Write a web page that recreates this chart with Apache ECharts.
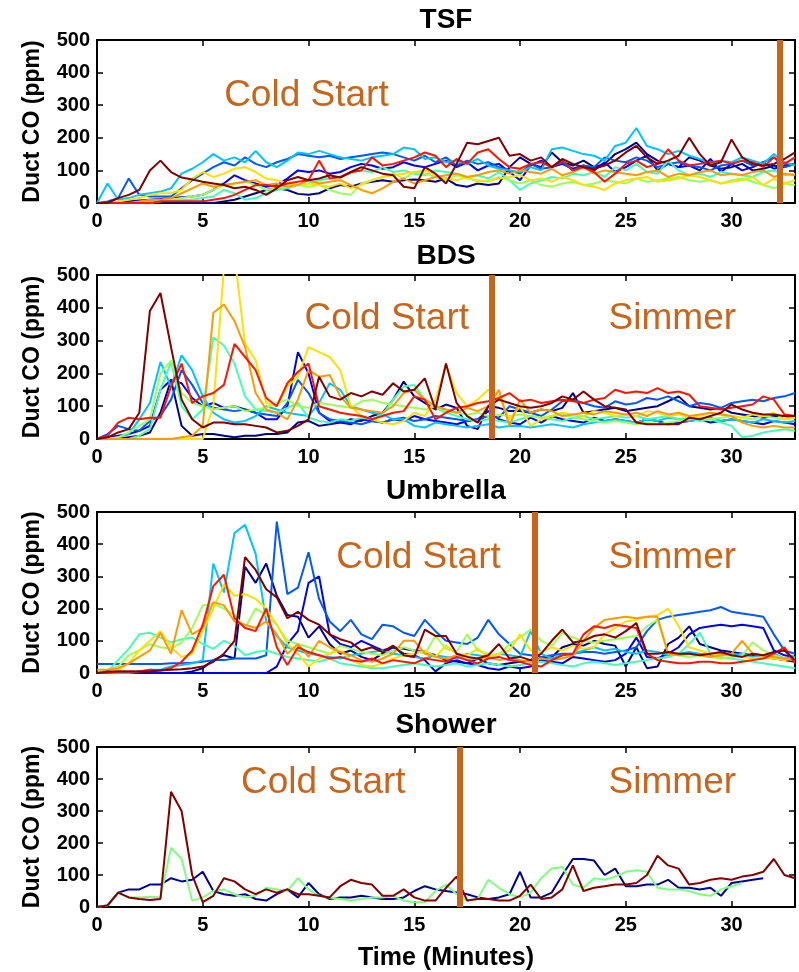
<!DOCTYPE html>
<html><head><meta charset="utf-8">
<script src="https://cdn.jsdelivr.net/npm/echarts@6/dist/echarts.min.js"></script>
<style>html,body{margin:0;padding:0;background:#fff}#chart{width:799px;height:972px}</style>
</head><body><div id="chart"></div>
<script>
// ---------- data ----------
const timeMin = [0,0.5,1,1.5,2,2.5,3,3.5,4,4.5,5,5.5,6,6.5,7,7.5,8,8.5,9,9.5,10,10.5,11,11.5,12,12.5,13,13.5,14,14.5,15,15.5,16,16.5,17,17.5,18,18.5,19,19.5,20,20.5,21,21.5,22,22.5,23,23.5,24,24.5,25,25.5,26,26.5,27,27.5,28,28.5,29,29.5,30,30.5,31,31.5,32,32.5,33];
const xTicks = [0,5,10,15,20,25,30];
const yTicks = [0,100,200,300,400,500];
const panelTitles = ['TSF','BDS','Umbrella','Shower'];
const phaseBoundary = [32.3, 18.65, 20.7, 17.15];
const phaseLabels = [
  [['Cold Start', 9.9, 328]],
  [['Cold Start', 13.7, 366], ['Simmer', 27.2, 366]],
  [['Cold Start', 15.2, 357], ['Simmer', 27.2, 357]],
  [['Cold Start', 10.7, 388], ['Simmer', 27.2, 388]]
];

// TSF
const tsfNavy = [0,0,0,0,0,0,0,0,0,0, 0,0,5,10,20,30,40,45,40,28, 25,30,45,55,50,60,65,70,65,70, 72,70,65,75,55,50,60,55,60,110, 140,120,110,155,125,115,130,110,120,150, 165,185,150,130,120,110,140,130,115,105, 110,120,100,105,115,110,120];
const tsfBlue = [0,0,0,5,8,10,12,15,18,20, 25,40,60,85,70,60,50,55,75,100, 95,100,90,95,110,120,115,105,110,125, 115,110,120,130,110,125,100,115,120,95, 70,115,130,110,120,105,115,100,125,95, 110,130,145,100,120,110,115,100,135,95, 120,100,110,125,105,115,120];
const tsfMidBlue = [0,5,15,75,25,20,20,20,45,70, 90,110,125,115,140,120,110,125,135,150, 145,140,145,135,140,145,150,155,150,140, 130,145,125,140,115,130,120,125,110,100, 90,120,105,110,125,100,115,110,140,130, 125,140,130,110,120,125,115,110,100,115, 120,130,115,125,140,110,120];
const tsfSky = [0,60,10,15,25,30,35,45,90,105, 125,150,130,140,125,160,125,110,130,155, 150,160,150,140,135,130,140,145,150,170, 165,135,140,125,130,120,135,115,105,100, 95,110,100,165,170,160,150,145,130,175, 185,230,175,165,150,160,145,135,120,130, 125,140,130,120,150,125,115];
const tsfAqua = [0,0,0,0,0,5,5,10,10,10, 15,20,40,30,10,15,30,40,45,55, 60,70,75,80,90,100,95,110,95,100, 90,85,100,95,90,80,85,75,95,70, 40,60,70,80,75,90,85,95,80,110, 100,120,95,90,130,100,85,90,80,95, 90,85,80,95,100,85,90];
const tsfLightGreen = [0,0,0,0,0,0,5,10,15,20, 25,40,55,60,65,55,40,45,50,55, 50,55,40,30,25,60,70,80,90,75, 95,90,80,70,85,75,70,65,80,70, 60,70,55,50,60,65,55,60,70,65, 60,75,65,70,75,80,70,65,70,60, 70,75,65,55,45,60,55];
const tsfYellow = [0,0,5,10,15,25,30,30,40,75, 95,80,90,105,110,95,75,70,60,55, 60,55,50,60,45,55,70,80,85,90, 95,100,85,75,70,80,65,70,75,80, 85,70,75,65,80,70,55,50,40,60, 70,75,80,65,70,75,85,80,70,60, 65,70,80,55,75,60,70];
const tsfOrange = [0,0,0,0,5,10,10,15,30,45, 60,50,55,60,65,70,55,60,50,55, 70,60,65,70,55,40,30,45,65,75, 60,70,80,85,90,80,85,95,100,90, 100,95,90,105,85,95,110,90,100,95, 90,85,95,100,80,90,85,95,100,85, 90,85,95,100,80,90,85];
const tsfRed = [0,0,0,0,0,0,5,5,5,5, 5,10,15,25,40,55,55,50,60,65, 70,130,75,80,95,100,140,115,120,130, 140,155,145,110,135,120,155,165,135,110, 105,120,125,110,130,100,110,95,65,90, 120,130,110,120,165,130,115,120,125,130, 120,130,125,110,140,120,140];
const tsfDarkRed = [0,0,15,25,40,100,130,95,78,72, 65,60,55,45,50,40,25,45,70,80, 70,75,85,78,95,110,100,90,85,50, 45,110,90,60,120,185,180,190,200,145, 150,130,140,110,135,120,110,105,115,130, 155,175,140,120,130,145,200,150,115,125, 195,140,120,115,120,135,155];

// BDS
const bdsNavy = [0,0,0,5,10,20,80,180,40,10, 15,15,10,5,10,10,15,15,20,50, 55,40,45,50,60,55,70,80,120,175, 130,110,90,105,95,40,30,100,95,85, 85,80,90,85,95,140,80,85,90,95, 85,90,95,100,115,130,100,95,90,95, 80,75,70,65,70,70,65];
const bdsBlue = [0,5,10,15,25,40,150,180,170,125, 100,110,95,100,90,80,60,60,100,265, 200,80,55,50,45,60,55,50,60,55, 70,60,55,50,45,55,60,85,60,50, 45,65,50,70,60,55,50,65,55,60, 55,50,60,55,45,50,55,60,50,55, 60,55,50,45,55,50,45];
const bdsMidBlue = [0,15,40,30,25,55,70,120,210,165, 110,95,90,85,90,80,75,70,110,180, 140,80,60,55,50,45,55,50,60,65, 55,60,70,65,60,55,60,70,65,100, 90,80,70,90,115,120,110,100,95,115, 105,110,125,120,130,115,100,110,105,95, 110,115,120,115,125,130,140];
const bdsSky = [0,0,5,15,60,110,235,160,255,210, 130,80,60,50,55,70,100,90,80,75, 70,110,170,150,100,90,80,75,60,60, 40,35,50,45,40,35,40,45,35,40, 40,35,40,45,40,35,45,50,55,60, 55,50,60,55,65,60,55,60,65,55, 60,55,50,60,55,50,55];
const bdsAqua = [0,0,0,0,10,30,150,235,100,60, 90,310,285,230,130,90,85,80,95,110, 65,55,50,60,55,65,60,75,120,160, 165,120,95,80,70,60,55,60,55,50, 60,70,65,60,55,65,70,60,65,70, 65,70,60,65,70,60,65,55,60,50, 40,5,10,20,25,30,25];
const bdsLightGreen = [0,0,5,20,40,60,200,240,140,110, 100,90,95,100,85,90,95,110,120,100, 95,110,105,100,95,115,120,110,105,100, 95,90,100,85,80,75,80,70,75,70, 75,70,65,70,75,65,60,55,50,55, 50,45,50,45,50,55,60,65,60,65, 70,65,60,70,65,60,65];
const bdsYellow = [0,0,0,0,0,0,0,0,0,0, 0,100,520,560,290,240,110,100,160,190, 280,265,250,210,100,70,60,50,45,55, 80,70,120,225,140,100,120,150,130,60, 100,40,60,70,80,75,70,85,80,70, 75,70,85,80,70,75,65,70,80,75, 70,65,75,70,80,60,65];
const bdsOrange = [0,0,0,0,0,0,0,0,5,10, 40,385,410,360,280,140,90,80,60,120, 210,190,195,130,95,90,85,80,100,140, 150,120,100,90,80,95,85,100,150,40, 120,80,90,85,70,75,80,75,85,80, 75,80,70,85,75,80,70,75,80,75, 70,50,40,35,40,35,35];
const bdsRed = [0,10,50,65,60,65,65,160,230,110, 130,140,165,290,250,210,125,100,170,205, 230,100,90,80,75,70,60,70,80,85, 130,120,60,80,95,100,110,115,125,140, 115,120,110,115,120,115,110,120,125,150, 140,145,140,155,140,145,135,100,95,90, 95,100,105,130,120,75,70];
const bdsDarkRed = [0,5,20,30,80,390,445,280,120,60, 35,50,50,45,45,40,35,20,25,40, 60,190,130,120,140,130,145,135,170,145, 150,185,90,230,110,70,50,100,120,110, 100,95,100,110,130,120,145,120,100,95, 90,50,45,45,45,45,65,60,70,80, 105,90,80,75,75,70,70];

// Umbrella
const umbMidBlue = [28,28,28,28,28,28,28,30,30,32, 35,40,40,45,45,45,55,470,245,265, 375,230,160,130,165,120,105,150,145,125, 115,165,130,100,95,90,110,165,120,90, 60,55,50,55,60,60,65,65,60,65, 70,80,130,165,175,180,185,190,195,205, 190,185,180,175,120,70,60];
const umbBlue = [0,0,0,0,0,0,0,0,0,0, 0,0,0,0,0,0,0,20,90,130, 280,300,120,90,80,100,85,70,80,60, 55,40,5,30,40,30,25,15,10,20, 15,20,40,35,30,50,45,40,35,40, 60,110,50,45,60,80,120,140,145,150, 145,150,145,140,70,55,50];
const umbNavy = [0,0,0,0,0,0,0,0,0,5, 15,40,55,45,330,280,340,240,180,175, 110,145,90,60,70,50,40,60,80,75, 70,65,55,40,35,30,45,30,25,30, 35,40,45,50,80,90,85,100,90,85, 20,80,15,20,90,110,145,90,80,70, 65,60,55,50,45,40,35];
const umbSky = [0,0,0,0,5,10,10,20,25,30, 40,340,250,435,460,370,160,115,80,70, 60,55,50,45,55,60,65,70,60,55, 50,45,55,50,45,60,55,50,60,55, 50,130,60,45,55,60,70,80,70,75, 65,60,70,65,55,60,65,60,55,60, 55,60,50,55,60,45,50];
const umbAqua = [0,5,40,75,120,125,110,95,105,110, 90,75,100,85,55,65,70,60,50,45, 40,35,45,30,25,20,15,15,20,25, 30,25,20,25,30,20,25,30,25,20, 25,30,35,30,25,20,30,35,30,25, 30,35,40,45,50,60,90,125,60,50, 45,40,35,30,25,20,15];
const umbLightGreen = [0,10,20,55,70,90,80,75,95,140, 210,215,200,180,140,200,180,150,100,90, 80,70,60,85,75,65,60,55,70,80, 70,60,115,75,65,120,70,60,55,90, 110,135,100,85,125,110,100,95,100,105, 110,115,145,165,60,55,50,55,50,45, 50,55,95,70,55,45,40];
const umbYellow = [0,0,10,30,70,100,130,80,50,60, 130,200,275,240,245,230,200,150,90,60, 20,45,60,70,40,25,20,30,45,55, 60,70,50,85,60,55,75,50,60,70, 120,70,65,80,70,85,75,80,120,140, 160,165,175,180,200,145,80,70,60,55, 55,50,45,50,45,40,45];
const umbOrange = [10,10,15,30,50,70,125,60,195,120, 140,220,210,160,150,140,160,120,60,90, 50,100,80,65,55,40,35,45,60,100, 100,60,50,45,55,40,45,50,40,45, 40,35,45,40,45,55,100,140,165,170, 175,170,175,175,60,55,60,55,50,55, 60,100,60,55,50,45,40];
const umbRed = [0,0,5,5,5,10,8,15,35,70, 150,270,305,170,140,130,200,80,25,80, 65,55,45,50,40,35,45,30,40,35, 30,45,40,35,50,40,30,45,50,40, 35,25,20,40,55,60,120,145,140,150, 145,140,60,40,35,30,30,35,35,30, 30,35,40,45,60,80,30];
const umbDarkRed = [0,5,5,5,5,5,8,10,12,15, 20,35,60,100,360,320,260,235,170,190, 165,150,120,105,95,70,80,65,85,55, 50,135,115,115,60,50,45,55,90,45, 50,40,60,100,135,95,100,115,120,110, 130,155,60,60,65,60,60,55,60,65, 55,50,60,55,65,70,40];

// Shower
const shwNavy = [0,5,45,55,55,70,70,90,80,85, 110,50,40,35,40,25,20,40,55,30, 75,40,25,30,30,35,30,25,25,30, 50,65,55,50,45,40,30,25,30,40, 110,30,30,45,100,150,150,145,100,120, 65,65,70,70,85,60,60,55,60,35, 75,80,85,90,null,null,null];
const shwGreen = [0,5,45,30,30,32,30,185,150,20, 30,50,55,40,30,35,60,55,50,90, 55,35,30,25,20,25,30,30,35,20, 15,15,50,70,40,20,25,85,60,40, 30,45,90,120,125,70,60,90,85,95, 110,115,110,60,55,55,50,40,35,55, 65,75,null,null,null,null,null];
const shwDarkRed = [0,5,45,30,25,22,25,360,300,100, 15,35,90,80,55,40,55,45,55,40, 40,35,30,65,85,75,70,35,35,55, 30,20,20,60,95,20,25,25,20,20, 35,70,25,30,55,130,50,60,65,70, 70,75,100,160,130,120,70,75,85,90, 85,95,100,110,150,100,90];

// ---------- styles ----------
const C = {
  navy:'#00008f', blue:'#0000f0', midblue:'#0058ff', sky:'#00c4ff', aqua:'#45ffb5',
  lgreen:'#9dff5a', sgreen:'#80ff80', yellow:'#ffe000', orange:'#ff9a00', red:'#ff1500', dred:'#800000'
};
const accent = '#C8651B';
const FONT = 'Liberation Sans';

const panelSeries = [
  [[tsfNavy,C.navy],[tsfBlue,C.blue],[tsfMidBlue,C.midblue],[tsfSky,C.sky],[tsfAqua,C.aqua],[tsfLightGreen,C.lgreen],[tsfYellow,C.yellow],[tsfOrange,C.orange],[tsfRed,C.red],[tsfDarkRed,C.dred]],
  [[bdsNavy,C.navy],[bdsBlue,C.blue],[bdsMidBlue,C.midblue],[bdsSky,C.sky],[bdsAqua,C.aqua],[bdsLightGreen,C.lgreen],[bdsYellow,C.yellow],[bdsOrange,C.orange],[bdsRed,C.red],[bdsDarkRed,C.dred]],
  [[umbNavy,C.navy],[umbBlue,C.blue],[umbMidBlue,C.midblue],[umbSky,C.sky],[umbAqua,C.aqua],[umbLightGreen,C.lgreen],[umbYellow,C.yellow],[umbOrange,C.orange],[umbRed,C.red],[umbDarkRed,C.dred]],
  [[shwNavy,C.navy],[shwGreen,C.sgreen],[shwDarkRed,C.dred]]
];
const layout = [
  {top:40, height:163, titleY:20},
  {top:275, height:164, titleY:256},
  {top:512, height:161, titleY:491},
  {top:747, height:161, titleY:725}
];

const grid = [], xAxis = [], yAxis = [], series = [], graphic = [];
const axisLineStyle = {color:'#000', width:2};
const tickStyle = {color:'#000', width:1.5};
layout.forEach((L, i) => {
  grid.push({left:97, right:4, top:L.top, height:L.height});
  const xBase = {gridIndex:i, type:'value', min:0, max:33, interval:5, splitLine:{show:false},
    axisLine:{show:true, onZero:false, lineStyle:axisLineStyle},
    axisTick:{show:true, inside:true, length:6, lineStyle:tickStyle}};
  xAxis.push(Object.assign({}, xBase, {position:'bottom',
    axisLabel:{show:true, margin:8, fontSize:20, fontWeight:'bold', color:'#000', fontFamily:FONT,
      formatter: v => xTicks.includes(v) ? String(v) : ''},
    name: i === 3 ? 'Time (Minutes)' : '', nameLocation:'middle', nameGap:39,
    nameTextStyle:{fontSize:25, fontWeight:'bold', color:'#000', fontFamily:FONT}}));
  xAxis.push(Object.assign({}, xBase, {position:'top', axisLabel:{show:false}}));
  const yBase = {gridIndex:i, type:'value', min:0, max:500, interval:100, splitLine:{show:false},
    axisLine:{show:true, onZero:false, lineStyle:axisLineStyle},
    axisTick:{show:true, inside:true, length:6, lineStyle:tickStyle}};
  yAxis.push(Object.assign({}, yBase, {position:'left',
    axisLabel:{show:true, margin:7, fontSize:20, fontWeight:'bold', color:'#000', fontFamily:FONT,
      formatter: v => yTicks.includes(v) ? String(v) : ''},
    name:'Duct CO (ppm)', nameLocation:'middle', nameRotate:90, nameGap:53,
    nameTextStyle:{fontSize:23, fontWeight:'bold', color:'#000', fontFamily:FONT}}));
  yAxis.push(Object.assign({}, yBase, {position:'right', axisLabel:{show:false}}));

  const list = panelSeries[i];
  list.forEach((pair, k) => {
    const s = {type:'line', xAxisIndex:2*i, yAxisIndex:2*i,
      data: timeMin.map((t, j) => [t, pair[0][j]]),
      showSymbol:false, symbol:'none', silent:true, connectNulls:false,
      lineStyle:{width:2, color:pair[1]}, itemStyle:{color:pair[1]}};
    if (k === list.length - 1) {
      s.markLine = {silent:true, symbol:['none','none'], label:{show:false},
        lineStyle:{color:accent, width:6, type:'solid', opacity:1},
        emphasis:{disabled:true}, data:[{xAxis:phaseBoundary[i]}]};
      s.markPoint = {symbol:'circle', symbolSize:1, itemStyle:{color:'rgba(0,0,0,0)'},
        label:{show:true, position:'inside', formatter:'{b}', color:accent, fontSize:37, fontFamily:FONT},
        data: phaseLabels[i].map(a => ({name:a[0], coord:[a[1], a[2]]}))};
    }
    series.push(s);
  });

  graphic.push({type:'text', x:446, y:L.titleY, silent:true,
    style:{text:panelTitles[i], fill:'#000', font:'bold 28px "' + FONT + '"', align:'center', verticalAlign:'middle',
      textAlign:'center', textVerticalAlign:'middle'}});
});

const chart = echarts.init(document.getElementById('chart'), null, {renderer:'canvas'});
chart.setOption({animation:false, backgroundColor:'#fff', textStyle:{fontFamily:FONT},
  grid, xAxis, yAxis, series, graphic});
</script>
</body></html>
